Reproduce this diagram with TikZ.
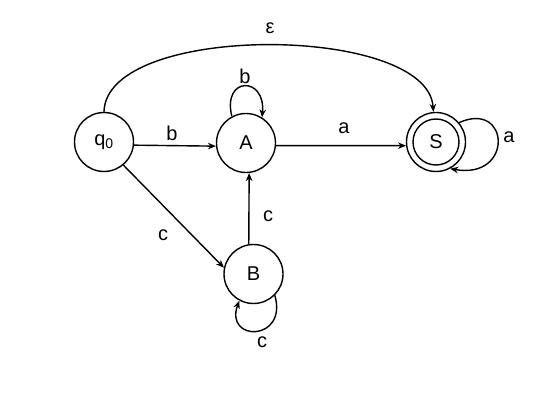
\documentclass[tikz,border=0pt]{standalone}
\usepackage{fontspec}
\setmainfont{Liberation Sans}
\usetikzlibrary{arrows.meta}
\begin{document}
\begin{tikzpicture}[x=1pt,y=-1pt,
  state/.style={circle,draw,line width=1.4pt,minimum size=59pt,inner sep=0pt,font=\fontsize{20}{20}\selectfont},
  innerring/.style={circle,draw,line width=1.4pt,minimum size=46pt,inner sep=0pt,font=\fontsize{20}{20}\selectfont},
  edge/.style={line width=1.4pt,-{Stealth[length=8pt,width=6.5pt]}},
  lbl/.style={font=\fontsize{20}{20}\selectfont,inner sep=0pt}]
\useasboundingbox (0,0) rectangle (539,417);
\node[state] (q0) at (104,142) {q\textsubscript{0}};
\node[state] (A) at (246,143) {A};
\node[state] (B) at (253.5,274) {B};
\node[state] (S) at (436,142) {};
\node[innerring] (Sin) at (S) {S};
% edges
\draw[edge] (q0.-6) -- (A.186);
\node[lbl] (lb1) at (172,133) {b};
\draw[edge] (A.-5) -- (S.187);
\node[lbl] (la1) at (344,128) {a};
\draw[edge] (q0.-50) -- (B.168);
\node[lbl] (lc1) at (163,235) {c};
\draw[edge] (B.99) -- (A.-84);
\node[lbl] (lc2) at (268,216) {c};
\draw[edge] (q0.90) .. controls (106,22) and (428,24) .. (S.95);
\node[lbl] (le) at (270,28) {ε};
% loops
\draw[edge] (A.118) .. controls (222,76) and (266,76) .. (A.58);
\node[lbl] (lb2) at (245,76) {b};
\draw[edge] (S.40) .. controls (510,100) and (514,180) .. (S.-62);
\node[lbl] (la2) at (509,137) {a};
\draw[edge] (B.-45) .. controls (288,342) and (224,342) .. (B.-118);
\node[lbl] (lc3) at (262,342) {c};
\end{tikzpicture}
\end{document}
